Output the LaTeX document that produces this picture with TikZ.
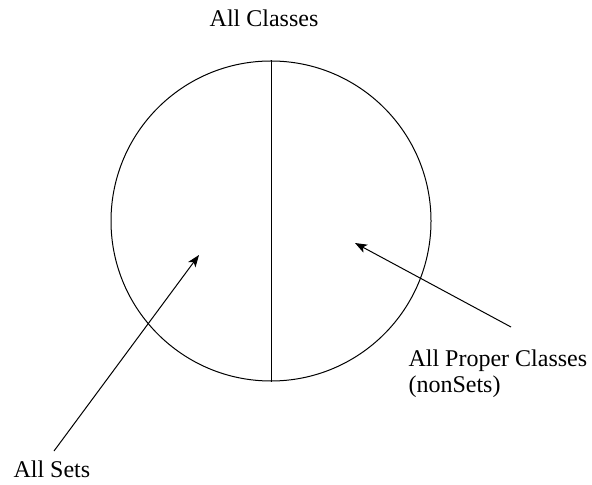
\documentclass[tikz,border=0pt]{standalone}
\usepackage{fontspec}
\setmainfont{Liberation Serif}
\usetikzlibrary{arrows.meta,positioning}

\begin{document}
\begin{tikzpicture}[
  x=0.5pt,y=-0.5pt,
  lbl/.style={font=\fontsize{12}{13}\selectfont,inner sep=0pt,align=left},
  arr/.style={-{Stealth[length=6pt,width=4.5pt,inset=1.5pt]},line width=0.5pt},
  line width=0.5pt
]
\useasboundingbox (0,0) rectangle (592,485);
\node[circle,draw,minimum size=160pt,inner sep=0pt] (cls) at (271,221) {};
\draw (cls.north) -- (cls.south);

\node[lbl,anchor=base] (allcls) at (264,27) {All Classes};
\node[lbl,anchor=base west] (sets) at (13,477) {All Sets};
\node[lbl,anchor=north west] (proper) at (408,349) {All Proper Classes\\(nonSets)};

\coordinate (setsTail) at (54,451);
\coordinate (setsTip) at (199,255);
\coordinate (propTail) at (511,327);
\coordinate (propTip) at (355,243);
\draw[arr] (setsTail) -- (setsTip);
\draw[arr] (propTail) -- (propTip);
\end{tikzpicture}
\end{document}
